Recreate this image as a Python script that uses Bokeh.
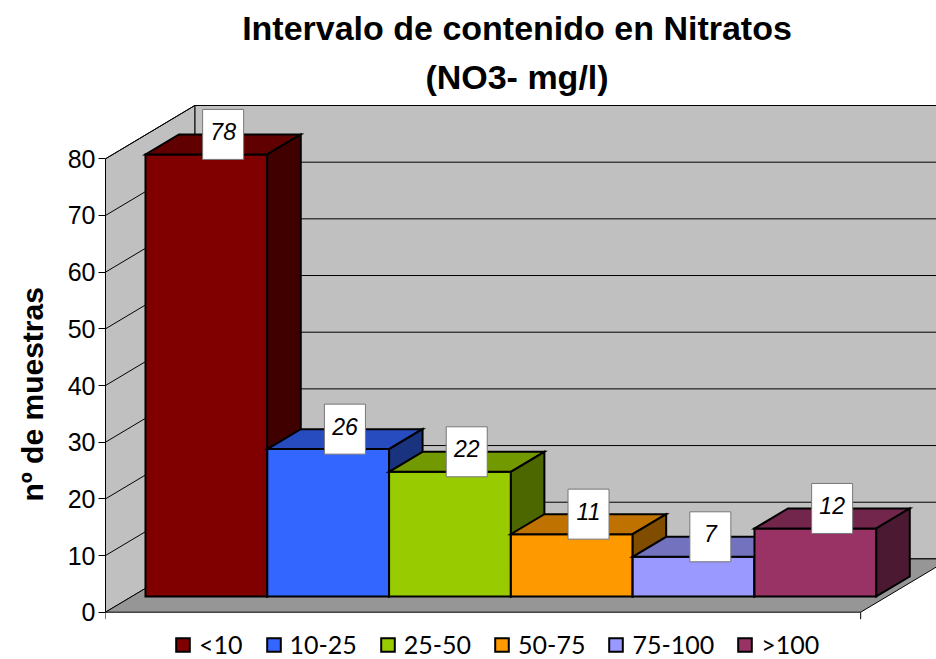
import numpy as np
from bokeh.plotting import figure
from bokeh.models import (ColumnDataSource, Legend, LegendItem, FixedTicker,
                          Label, Range1d, Title)
from bokeh.core.properties import value
from bokeh.embed import file_html
from bokeh.resources import INLINE

# ---------------- data ----------------
categories = ["<10", "10-25", "25-50", "50-75", "75-100", ">100"]
counts = [78, 26, 22, 11, 7, 12]
y_ticks = [0, 10, 20, 30, 40, 50, 60, 70, 80]
front_colors = ["#800000", "#3366FF", "#99CC00", "#FF9900", "#9999FF", "#993366"]
title_lines = ["Intervalo de contenido en Nitratos", "(NO3- mg/l)"]
y_label = "nº de muestras"

# ---------------- layout / style constants ----------------
PX_X = 121.8          # px per category unit
PX_Y = 5.6675         # px per count unit
LEFT = 105
FRAME_W, FRAME_H = 831, 659
ZERO_PX = 47.3        # zero line above frame bottom (px)
DX = 89.3 / PX_X      # 3D depth shift (x, data units)
DY = 53.3 / PX_Y      # 3D depth shift (y, data units)
FLOOR_W = 6.2
BAR_OFF = 0.112
ZF, ZB = 0.295, 0.67  # bar front / back depth
VMAX = 80
LABEL_LIFT = 10 / PX_Y
FONT = "Liberation Sans"


def proj(X, V, Z):
    return X + Z * DX, V + Z * DY


def poly(points):
    pts = [proj(*p) for p in points]
    return [p[0] for p in pts], [p[1] for p in pts]


def shade(hex_color, f):
    h = hex_color.lstrip("#")
    r, g, b = (int(h[i:i + 2], 16) for i in (0, 2, 4))
    return "#%02X%02X%02X" % (int(r * f), int(g * f), int(b * f))


y_start = -ZERO_PX / PX_Y
p = figure(width=LEFT + FRAME_W, height=FRAME_H,
           x_range=Range1d(0, FRAME_W / PX_X),
           y_range=Range1d(y_start, y_start + FRAME_H / PX_Y),
           output_backend="svg", toolbar_location=None,
           x_axis_location=None, title=None,
           min_border_left=LEFT, min_border_right=0,
           min_border_top=0, min_border_bottom=0)
p.outline_line_color = None
p.grid.visible = False
p.background_fill_color = "white"
p.border_fill_color = "white"

# ---------------- walls and floor ----------------
bw = poly([(0, 0, 1), (FLOOR_W, 0, 1), (FLOOR_W, VMAX, 1), (0, VMAX, 1)])
lw = poly([(0, 0, 0), (0, 0, 1), (0, VMAX, 1), (0, VMAX, 0)])
fl = poly([(0, 0, 0), (FLOOR_W, 0, 0), (FLOOR_W, 0, 1), (0, 0, 1)])
p.patches([bw[0], lw[0]], [bw[1], lw[1]], fill_color="#C0C0C0",
          line_color="black", line_width=1)
p.patch(fl[0], fl[1], fill_color="#969696", line_color="black", line_width=1)

# gridlines on walls
gx, gy = [], []
for v in y_ticks[1:]:
    a = proj(0, v, 0); b = proj(0, v, 1); c = proj(FLOOR_W, v, 1)
    gx.append([a[0], b[0], c[0]]); gy.append([a[1], b[1], c[1]])
p.multi_line(gx, gy, line_color="black", line_width=1)

# small ticks at floor front ends
ex = [[0, 0], [FLOOR_W, FLOOR_W]]
ey = [[0, -7 / PX_Y], [0, -7 / PX_Y]]
p.multi_line(ex, ey, line_color="black", line_width=1)

# ---------------- bars ----------------
items = []
for i, (cat, c, col) in enumerate(zip(categories, counts, front_colors)):
    x0 = BAR_OFF + i
    x1 = x0 + 1
    front = poly([(x0, 0, ZF), (x1, 0, ZF), (x1, c, ZF), (x0, c, ZF)])
    top = poly([(x0, c, ZF), (x1, c, ZF), (x1, c, ZB), (x0, c, ZB)])
    side = poly([(x1, 0, ZF), (x1, 0, ZB), (x1, c, ZB), (x1, c, ZF)])
    src = ColumnDataSource(dict(
        xs=[front[0], top[0], side[0]],
        ys=[front[1], top[1], side[1]],
        color=[col, shade(col, 0.75), shade(col, 0.5)]))
    r = p.patches("xs", "ys", source=src, fill_color="color",
                  line_color="black", line_width=2, line_join="miter")
    items.append(LegendItem(label=cat, renderers=[r], index=0))

# ---------------- data labels ----------------
lx, ly = [], []
for i, c in enumerate(counts):
    pt = proj(BAR_OFF + i + 0.5, c + LABEL_LIFT, (ZF + ZB) / 2)
    lx.append(pt[0]); ly.append(pt[1])
lsrc = ColumnDataSource(dict(x=lx, y=ly, t=[str(c) for c in counts]))
p.rect("x", "y", width=41, height=50, width_units="screen",
       height_units="screen", source=lsrc, fill_color="white",
       line_color="#777777", line_width=1)
p.text("x", "y", text="t", source=lsrc, text_font=value(FONT),
       text_font_style="italic", text_font_size="23px", text_align="center",
       text_baseline="middle", y_offset=-3, text_color="black")

# ---------------- axis ----------------
ax = p.yaxis[0]
ax.ticker = FixedTicker(ticks=y_ticks)
ax.bounds = (0, VMAX)
ax.major_tick_out = 7
ax.major_tick_in = 0
ax.minor_tick_out = 0
ax.minor_tick_in = 0
ax.axis_line_color = "black"
ax.major_tick_line_color = "black"
ax.major_label_text_font = FONT
ax.major_label_text_font_size = "25px"
ax.major_label_text_color = "black"
ax.major_label_standoff = 3

# axis title placed in the left border, starting near the bottom of the axis
p.add_layout(Title(text=y_label, align="left", offset=158,
                   vertical_align="top",
                   text_font=FONT, text_font_size="30px",
                   text_font_style="bold", text_color="black",
                   standoff=28), "left")

# ---------------- title ----------------
xc = FRAME_W / PX_X / 2 - 4 / PX_X
for txt, px in zip(title_lines, [583.9, 535.7]):
    p.add_layout(Label(x=xc, y=px / PX_Y, text=txt, text_font=FONT,
                       text_font_size="34px", text_font_style="bold",
                       text_align="center", text_baseline="alphabetic",
                       text_color="black"))

# ---------------- legend ----------------
legend = Legend(items=items, orientation="horizontal", location=(69, 0),
                glyph_width=17, glyph_height=17, label_standoff=8,
                spacing=22, padding=0, margin=0, border_line_color=None,
                background_fill_alpha=0, label_text_font="Lato",
                label_text_font_size="25px", label_text_color="black")
p.add_layout(legend, "center")

open("out.html", "w").write(file_html(p, INLINE))
